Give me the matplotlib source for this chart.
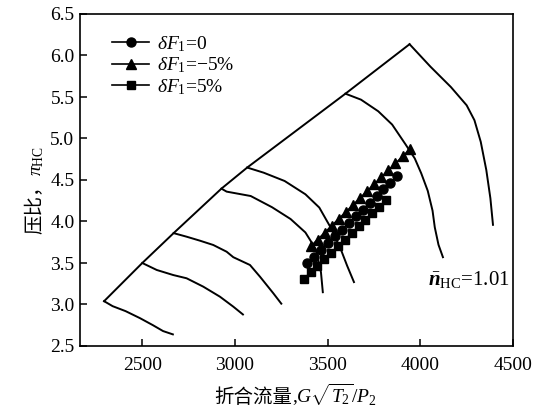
import matplotlib
matplotlib.use("Agg")
import matplotlib.pyplot as plt

plt.rcParams['font.family'] = ['Liberation Serif', 'Noto Sans CJK SC']
plt.rcParams['mathtext.fontset'] = 'custom'
plt.rcParams['mathtext.rm'] = 'Liberation Serif'
plt.rcParams['mathtext.it'] = 'Liberation Serif:italic'
plt.rcParams['mathtext.bf'] = 'Liberation Serif:italic:bold'

# Surge line
surge_x = [2294, 2500, 2669, 2927, 3066, 3596, 3942]
surge_y = [3.04, 3.50, 3.86, 4.396, 4.65, 5.54, 6.136]

# Speed lines
speed_lines = [
    ([2294, 2340, 2410, 2488, 2558, 2612, 2665], [3.04, 2.98, 2.92, 2.835, 2.75, 2.68, 2.64]),
    ([2500, 2578, 2667, 2739, 2829, 2919, 2991, 3043], [3.50, 3.416, 3.355, 3.316, 3.215, 3.094, 2.974, 2.88]),
    ([2669, 2739, 2811, 2883, 2955, 2991, 3081, 3135, 3207, 3250], [3.86, 3.817, 3.769, 3.717, 3.636, 3.57, 3.476, 3.335, 3.135, 3.01]),
    ([2927, 2955, 3085, 3200, 3300, 3380, 3436, 3464, 3474], [4.396, 4.36, 4.307, 4.172, 4.03, 3.868, 3.668, 3.388, 3.148]),
    ([3066, 3155, 3268, 3380, 3455, 3511, 3567, 3605, 3642], [4.65, 4.588, 4.488, 4.328, 4.168, 3.948, 3.688, 3.468, 3.27]),
    ([3596, 3680, 3773, 3848, 3920, 3970, 4005, 4040, 4066, 4078, 4098, 4122], [5.54, 5.468, 5.328, 5.168, 4.93, 4.76, 4.58, 4.37, 4.13, 3.93, 3.72, 3.57]),
    ([3942, 4054, 4165, 4250, 4292, 4326, 4356, 4378, 4392], [6.136, 5.867, 5.62, 5.40, 5.22, 4.96, 4.62, 4.28, 3.96]),
]

# Operating lines
x_zero = [3390, 3427, 3465, 3502, 3540, 3577, 3614, 3652, 3689, 3727, 3764, 3801, 3839, 3876]
y_zero = [3.496, 3.577, 3.658, 3.739, 3.82, 3.901, 3.982, 4.062, 4.143, 4.224, 4.305, 4.386, 4.467, 4.548]
x_minus5 = [3408, 3446, 3484, 3522, 3560, 3599, 3637, 3675, 3713, 3751, 3789, 3827, 3866, 3904, 3942]
y_minus5 = [3.70, 3.783, 3.866, 3.95, 4.033, 4.117, 4.20, 4.284, 4.367, 4.45, 4.534, 4.617, 4.70, 4.785, 4.868]
x_plus5 = [3371, 3408, 3445, 3482, 3519, 3556, 3593, 3630, 3667, 3704, 3741, 3778, 3815]
y_plus5 = [3.308, 3.387, 3.466, 3.545, 3.624, 3.703, 3.782, 3.861, 3.94, 4.019, 4.098, 4.177, 4.256]

labels = [r'$\delta F_1$=0', r'$\delta F_1$=$-$5%', r'$\delta F_1$=5%']
x_ticks = [2500, 3000, 3500, 4000, 4500]
y_ticks = [2.5, 3.0, 3.5, 4.0, 4.5, 5.0, 5.5, 6.0, 6.5]

W, H = 545, 411
fig = plt.figure(figsize=(W / 100, H / 100), dpi=100)
ax = fig.add_axes([80 / W, 65 / H, 433 / W, 332 / H])

ax.plot(surge_x, surge_y, color='black', lw=1.4)
for sx, sy in speed_lines:
    ax.plot(sx, sy, color='black', lw=1.4)

ax.plot(x_zero, y_zero, '-o', color='black', lw=1.2, ms=6.5, label=labels[0])
ax.plot(x_minus5, y_minus5, '-^', color='black', lw=1.2, ms=7.5, label=labels[1])
ax.plot(x_plus5, y_plus5, '-s', color='black', lw=1.2, ms=5.5, label=labels[2])

ax.text(4040, 3.30, r'$\bar{\mathbf{n}}_{\rm HC}$=1.01', fontsize=15, va='center', ha='left')

ax.set_xlim(2164, 4500)
ax.set_ylim(2.5, 6.5)
ax.set_xticks(x_ticks)
ax.set_xticklabels([str(v) for v in x_ticks])
ax.set_yticks(y_ticks)
ax.set_yticklabels([f'{v:.1f}' for v in y_ticks])
ax.tick_params(direction='in', length=5, width=1.1, labelsize=14)
ax.tick_params(axis='x', pad=8)
ax.tick_params(axis='y', pad=4)
for s in ax.spines.values():
    s.set_linewidth(1.2)

ax.legend(loc='upper left', bbox_to_anchor=(0.075, 0.94), frameon=False,
          fontsize=14, handlelength=1.9, handletextpad=0.4, labelspacing=0.1,
          borderaxespad=0, borderpad=0)

# Axis labels built from pieces (CJK text + math text)
fig.canvas.draw()
r = fig.canvas.get_renderer()

# x label
xl_base = (411 - 403) / H
t1 = fig.text(214 / W, xl_base, '折合流量', family='Noto Sans CJK SC', fontsize=14,
              ha='left', va='baseline')
bb = t1.get_window_extent(r)
t2 = fig.text(bb.x1 / W, xl_base, r',$G\sqrt{T_2}/P_2$', fontsize=14,
              ha='left', va='baseline')

# y label (rotated, reading bottom to top)
yl_base = 41 / W
s1 = fig.text(yl_base, (H - 234) / H, '压比，', family='Noto Sans CJK SC', fontsize=14,
              rotation=90, rotation_mode='anchor', ha='left', va='baseline')
bb = s1.get_window_extent(r)
s2 = fig.text(yl_base, bb.y1 / H, r'$\pi_{\rm HC}$', fontsize=14,
              rotation=90, rotation_mode='anchor', ha='left', va='baseline')

fig.savefig('out.png', dpi=100)
